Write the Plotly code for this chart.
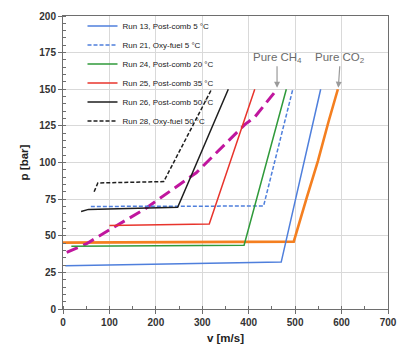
import plotly.graph_objects as go

# ---- data (v [m/s], p [bar]) ----
run13_v = [5, 470, 555]
run13_p = [29.5, 32, 150]

run21_v = [60, 432, 495]
run21_p = [70, 70.3, 150]

run24_v = [18, 390, 481]
run24_p = [42.8, 43.5, 150]

run25_v = [100, 315, 413]
run25_p = [57, 58, 150]

run26_v = [39, 55, 247, 356]
run26_p = [66.5, 68, 69.5, 150]

run28_v = [67, 75, 217, 320]
run28_p = [80, 86, 87, 150]

ch4_v = [8, 50, 105, 175, 287, 392, 413, 461]
ch4_p = [38.7, 44.4, 55, 68, 93, 126, 131, 150]

co2_v = [0, 497, 525, 549, 572, 592]
co2_p = [45.3, 46, 76, 101, 128, 150]

legend_names = [
    "Run 13, Post-comb 5 °C",
    "Run 21, Oxy-fuel 5 °C",
    "Run 24, Post-comb 20 °C",
    "Run 25, Post-comb 35 °C",
    "Run 26, Post-comb 50 °C",
    "Run 28, Oxy-fuel 50 °C",
]

x_ticks = [0, 100, 200, 300, 400, 500, 600, 700]
y_ticks = [0, 25, 50, 75, 100, 125, 150, 175, 200]

fig = go.Figure()

# pure components (not in legend)
fig.add_trace(go.Scatter(x=co2_v, y=co2_p, mode="lines", showlegend=False,
                         line=dict(color="#f47f20", width=2.6)))
fig.add_trace(go.Scatter(x=ch4_v, y=ch4_p, mode="lines", showlegend=False,
                         line=dict(color="#c0169e", width=3, dash="12px,6px")))

series = [
    (run13_v, run13_p, "#4f7fdc", "solid", 1.5),
    (run21_v, run21_p, "#4f7fdc", "4px,2px", 1.5),
    (run24_v, run24_p, "#2f9a3a", "solid", 1.5),
    (run25_v, run25_p, "#e8342c", "solid", 1.5),
    (run26_v, run26_p, "#1e1e1e", "solid", 1.5),
    (run28_v, run28_p, "#1e1e1e", "4px,2px", 1.5),
]
for (vx, py, col, dsh, w), name in zip(series, legend_names):
    fig.add_trace(go.Scatter(x=vx, y=py, mode="lines", name=name,
                             line=dict(color=col, dash=dsh, width=w)))

ann_font = dict(family="Liberation Sans, Arial", size=11.5, color="#6b6b6b")
fig.add_annotation(x=461, y=151, text="Pure CH<sub>4</sub>", showarrow=True,
                   ax=0, ay=-30, arrowhead=2, arrowsize=1, arrowwidth=1.2,
                   arrowcolor="#9a9a9a", font=ann_font)
fig.add_annotation(x=593, y=151, text="Pure CO<sub>2</sub>", showarrow=True,
                   ax=2, ay=-30, arrowhead=2, arrowsize=1, arrowwidth=1.2,
                   arrowcolor="#9a9a9a", font=ann_font)

axis_common = dict(
    showline=True, linecolor="#6e6e6e", linewidth=1, mirror=True,
    showgrid=True, gridcolor="#d9d9d9", gridwidth=1,
    ticks="outside", ticklen=4, tickcolor="#6e6e6e",
    zeroline=False,
    tickfont=dict(family="Liberation Sans, Arial", size=10, color="#333333", weight="bold"),
)

fig.update_layout(
    width=407, height=354,
    margin=dict(l=63, r=10, t=13, b=45),
    paper_bgcolor="white", plot_bgcolor="white",
    showlegend=True,
    legend=dict(x=0.06, y=1.015, xanchor="left", yanchor="top",
                bgcolor="rgba(0,0,0,0)",
                font=dict(family="Liberation Sans, Arial", size=8, color="#1a1a1a"),
                itemwidth=30, tracegroupgap=0),
    xaxis=dict(range=[0, 700], tickvals=x_ticks,
               title=dict(text="v [m/s]", standoff=6,
                          font=dict(family="Liberation Sans, Arial", size=11.5,
                                    color="#222222", weight="bold")),
               minor=dict(dtick=50, ticks="inside", ticklen=3, tickcolor="#6e6e6e", showgrid=False),
               **axis_common),
    yaxis=dict(range=[0, 200], tickvals=y_ticks,
               title=dict(text="p [bar]", standoff=8,
                          font=dict(family="Liberation Sans, Arial", size=11.5,
                                    color="#222222", weight="bold")),
               minor=dict(dtick=5, ticks="inside", ticklen=3, tickcolor="#6e6e6e", showgrid=False),
               **axis_common),
)

fig.write_html("out.html")
